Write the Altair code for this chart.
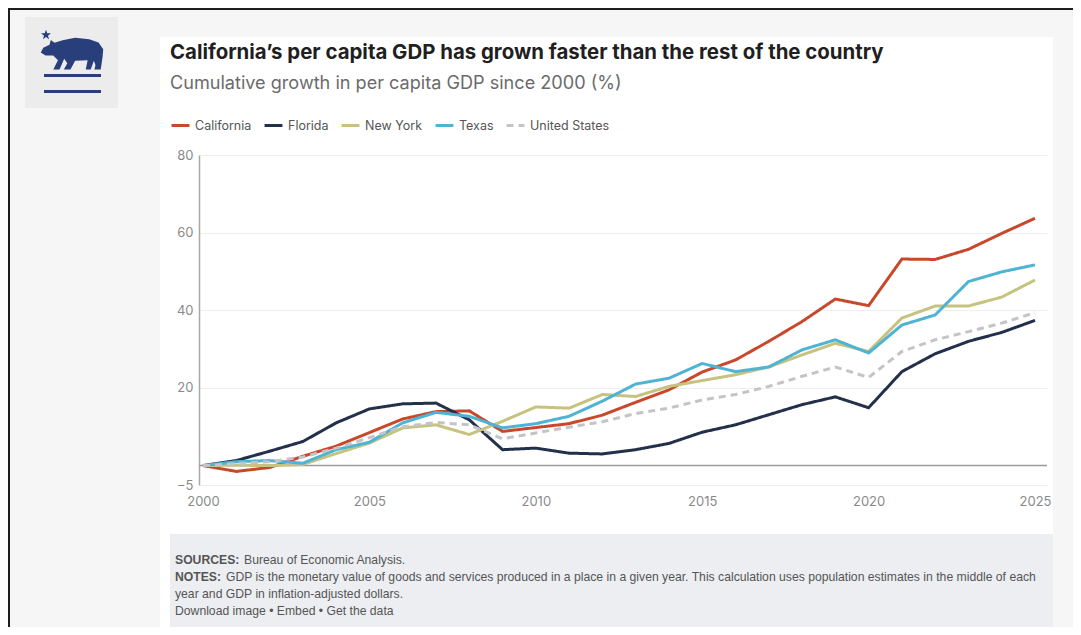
import altair as alt
import pandas as pd

years = list(range(2000, 2026))
california = [0, -1.5, -0.5, 2.4, 5, 8.5, 12, 13.9, 14.1, 8.8, 9.8, 10.8, 13, 16.3, 19.5, 24.1, 27.2, 32, 37.1, 42.9, 41.2, 53.2, 53.1, 55.7, 59.8, 63.7]
florida = [0, 1.3, 3.7, 6.2, 11, 14.6, 15.9, 16.1, 11.8, 4.1, 4.5, 3.2, 3.0, 4.1, 5.7, 8.6, 10.5, 13.1, 15.7, 17.7, 14.9, 24.2, 28.8, 32, 34.3, 37.4]
new_york = [0, 0.1, 0, 0.3, 3.1, 5.8, 9.7, 10.5, 8, 11.4, 15.1, 14.8, 18.3, 17.8, 20.4, 21.9, 23.4, 25.4, 28.5, 31.5, 29.4, 38, 41.1, 41.1, 43.4, 47.8]
texas = [0, 1.0, 1.3, 0.6, 4.1, 6, 11, 13.7, 12.7, 9.7, 10.8, 12.7, 16.6, 21, 22.5, 26.3, 24.2, 25.4, 29.8, 32.4, 29, 36.2, 38.8, 47.4, 49.9, 51.7]
united_states = [0, 0.5, 1.0, 2.2, 4.5, 7.2, 10, 11.1, 10.5, 6.9, 8.4, 9.9, 11.3, 13.4, 14.8, 16.9, 18.3, 20.4, 23, 25.4, 22.7, 29.4, 32.4, 34.5, 36.7, 39.4]

series_names = ["California", "Florida", "New York", "Texas", "United States"]
series_colors = ["#c9472b", "#22304a", "#c6c37f", "#4fb3d4", "#c4c4c8"]
series_dashes = [[1, 0], [1, 0], [1, 0], [1, 0], [7, 5]]
x_ticks = [2000, 2005, 2010, 2015, 2020, 2025]
y_ticks = [-5, 20, 40, 60, 80]

title_text = "California\u2019s per capita GDP has grown faster than the rest of the country"
subtitle_text = "Cumulative growth in per capita GDP since 2000 (%)"
sources_label = "SOURCES:"
sources_text = "Bureau of Economic Analysis."
notes_label = "NOTES:"
notes_text1 = "GDP is the monetary value of goods and services produced in a place in a given year. This calculation uses population estimates in the middle of each"
notes_text2 = "year and GDP in inflation-adjusted dollars."
links_text = "Download image \u2022 Embed  \u2022 Get the data"

rows = []
for name, vals in zip(series_names, [california, florida, new_york, texas, united_states]):
    for yr, v in zip(years, vals):
        rows.append({"year": yr, "value": v, "series": name})
df = pd.DataFrame(rows)

one = pd.DataFrame({"a": [0]})
FONT = "Inter"
FOOT = "Liberation Sans"
NAVY = "#283f7c"


def rect(x, x2, y, y2, color):
    return alt.Chart(one).mark_rect(color=color, clip=False).encode(
        x=alt.value(x), x2=alt.value(x2), y=alt.value(y), y2=alt.value(y2))


def text(x, y, s, size, color, weight="normal", font=FONT):
    return alt.Chart(one).mark_text(
        align="left", baseline="alphabetic", fontSize=size, color=color,
        fontWeight=weight, font=font, clip=False
    ).encode(x=alt.value(x), y=alt.value(y), text=alt.value(s))


bg_grey = "#f6f6f6"
decor = [
    rect(-191, -39, -147, 480, bg_grey),
    rect(854, 874, -147, 480, bg_grey),
    rect(-39, 854, -147, -118, bg_grey),
    rect(-191, 874, -148, -145, "#1e1e1e"),
    rect(-192, -189, -147, 480, "#1e1e1e"),
    rect(-174, -81, -138, -47, "#ececec"),
    rect(-29, 854, 379, 480, "#eceef1"),
    rect(-155, -98, -81, -78, NAVY),
    rect(-155, -98, -65, -62, NAVY),
]

bear_path = ("M -1 -0.05 L -0.92 -0.2 L -0.72 -0.3 L -0.68 -0.45 L -0.56 -0.36 L -0.3 -0.44 "
             "L 0.1 -0.52 L 0.55 -0.47 L 0.85 -0.37 L 1 -0.15 L 0.98 0.1 L 0.92 0.5 L 0.72 0.5 "
             "L 0.75 0.35 L 0.7 0.22 L 0.6 0.5 L 0.44 0.5 L 0.5 0.2 L 0.1 0.22 L -0.05 0.5 "
             "L -0.26 0.5 L -0.15 0.3 L -0.25 0.15 L -0.4 0.5 L -0.6 0.5 L -0.45 0.2 "
             "L -0.6 0.05 L -0.85 0.05 Z")
star_path = ("M 0 -1 L 0.24 -0.31 L 0.95 -0.31 L 0.38 0.12 L 0.59 0.81 L 0 0.4 "
             "L -0.59 0.81 L -0.38 0.12 L -0.95 -0.31 L -0.24 -0.31 Z")
bear = alt.Chart(one).mark_point(shape=bear_path, filled=True, color=NAVY, opacity=1, clip=False).encode(
    x=alt.value(-127), y=alt.value(-101), size=alt.value(3900))
star = alt.Chart(one).mark_point(shape=star_path, filled=True, color=NAVY, opacity=1, clip=False).encode(
    x=alt.value(-153), y=alt.value(-120), size=alt.value(110))

FS = 12.2
texts = [
    text(-29, -96, title_text, 20.4, "#1f1f1f", "bold"),
    text(-29, -66, subtitle_text, 18.1, "#6b6b6b"),
    text(-24, 409, sources_label, FS, "#555555", "bold", FOOT),
    text(45, 409, sources_text, FS, "#555555", "normal", FOOT),
    text(-24, 426, notes_label, FS, "#555555", "bold", FOOT),
    text(27, 426, notes_text1, FS, "#555555", "normal", FOOT),
    text(-24, 443, notes_text2, FS, "#555555", "normal", FOOT),
    text(-24, 460, links_text, FS, "#555555", "normal", FOOT),
]

zero_line = alt.Chart(pd.DataFrame({"z": [0]})).mark_rule(color="#9a9a9a", strokeWidth=1.5).encode(y="z:Q")

legend_kw = dict(
    title=None, orient="none", legendX=-29, legendY=-40, direction="horizontal",
    symbolType="stroke", symbolStrokeWidth=3, symbolSize=320, labelFontSize=12.5,
    labelColor="#555555", labelFont=FONT, labelOffset=4, columnPadding=6,
)

lines = alt.Chart(df).mark_line(strokeWidth=3).encode(
    x=alt.X("year:Q",
            scale=alt.Scale(domain=[1999.88, 2025.36], nice=False, zero=False),
            axis=alt.Axis(values=x_ticks, format="d", grid=False, domain=False, ticks=False,
                          labelFontSize=13, labelColor="#8a8a8a", labelFont=FONT,
                          labelPadding=10, title=None)),
    y=alt.Y("value:Q",
            scale=alt.Scale(domain=[-5, 80], nice=False, zero=False),
            axis=alt.Axis(values=y_ticks, grid=True, gridColor="#eeeeee", domain=True,
                          domainColor="#a8a8a8", domainWidth=1.5, ticks=False,
                          labelFontSize=13, labelColor="#8a8a8a", labelFont=FONT,
                          labelPadding=6, title=None)),
    color=alt.Color("series:N", sort=series_names,
                    scale=alt.Scale(domain=series_names, range=series_colors),
                    legend=alt.Legend(**legend_kw)),
    strokeDash=alt.StrokeDash("series:N", sort=series_names,
                              scale=alt.Scale(domain=series_names, range=series_dashes),
                              legend=alt.Legend(**legend_kw)),
)

chart = alt.layer(*decor, bear, star, *texts, zero_line, lines).properties(
    width=848, height=330,
    autosize=alt.AutoSizeParams(type="none"),
    padding={"left": 191, "top": 147, "right": 26, "bottom": 142},
    background="white",
).configure_view(stroke=None)

chart.save("out.html", embed_options={"renderer": "svg", "actions": False})
